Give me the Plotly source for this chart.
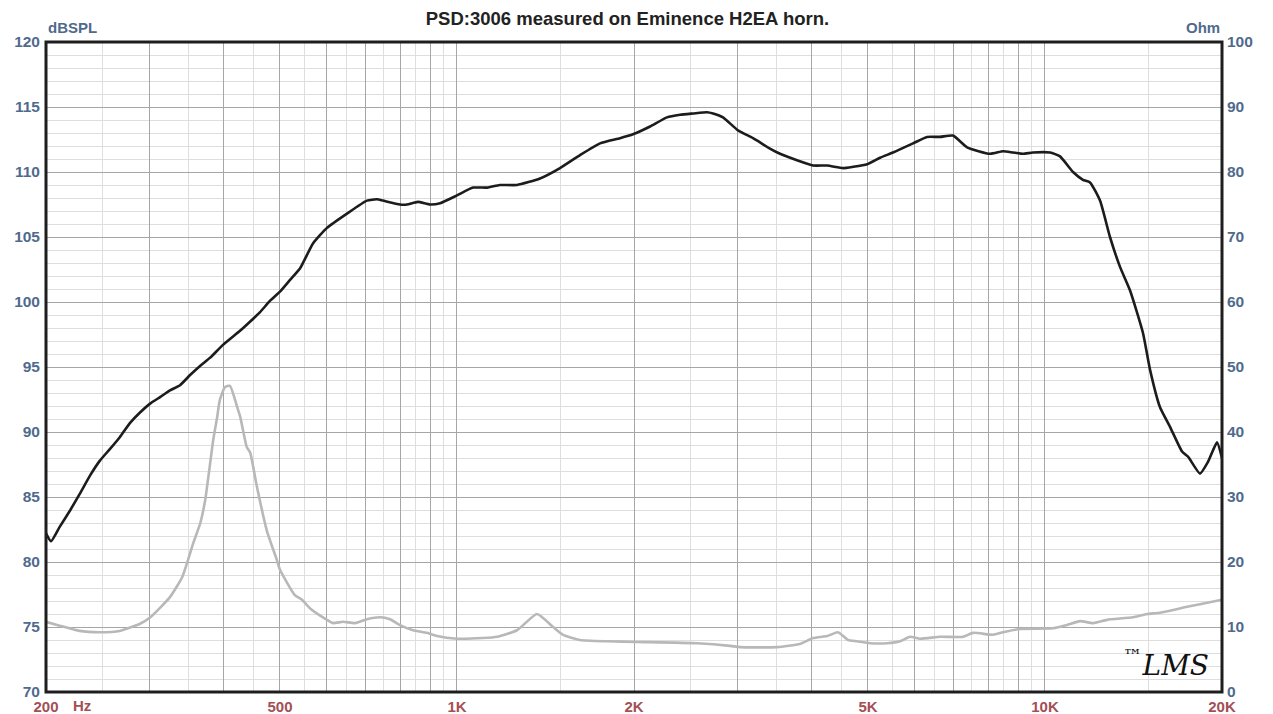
import plotly.graph_objects as go

# ---- Data ----
spl_freq = [200, 204, 211, 220, 228, 238, 247, 257, 267, 278, 289, 301, 313, 325, 338, 352, 366, 380,
            400, 428, 445, 462, 481, 500, 520, 541, 569, 601, 650, 703, 731, 748, 800, 822, 858, 900,
            936, 1000, 1065, 1125, 1183, 1265, 1384, 1497, 1619, 1751, 1893, 1992, 2130, 2276, 2396,
            2520, 2662, 2726, 2834, 3006, 3188, 3406, 3543, 3786, 4032, 4260, 4536, 4716, 4982, 5242,
            5514, 5964, 6300, 6630, 6974, 7370, 8064, 8486, 8824, 9174, 9540, 10198, 10606, 11160,
            11604, 11928, 12404, 12898, 13414, 13948, 14680, 15086, 15690, 16316, 17102, 17508,
            18348, 18934, 19612, 20000]
spl_db = [82.2, 81.6, 82.7, 84.0, 85.2, 86.7, 87.8, 88.7, 89.6, 90.7, 91.5, 92.2, 92.7, 93.2, 93.6,
          94.4, 95.1, 95.7, 96.7, 97.8, 98.5, 99.2, 100.1, 100.8, 101.7, 102.6, 104.5, 105.7, 106.8,
          107.8, 107.9, 107.8, 107.5, 107.5, 107.7, 107.5, 107.6, 108.2, 108.8, 108.8, 109.0, 109.0,
          109.5, 110.3, 111.3, 112.2, 112.6, 112.9, 113.5, 114.2, 114.4, 114.5, 114.6, 114.5, 114.2,
          113.2, 112.6, 111.8, 111.4, 110.9, 110.5, 110.5, 110.3, 110.4, 110.6, 111.1, 111.5, 112.2,
          112.7, 112.7, 112.8, 111.9, 111.4, 111.6, 111.5, 111.4, 111.5, 111.5, 111.2, 110.0, 109.4,
          109.2, 107.8, 105.0, 102.7, 100.9, 97.6, 94.8, 91.9, 90.4, 88.5, 88.1, 86.8, 87.7, 89.2,
          88.0]

imp_freq = [200, 211, 228, 247, 267, 289, 301, 325, 341, 356, 366, 373, 385, 391, 395, 403, 411, 423,
            428, 439, 445, 457, 475, 494, 500, 530, 545, 562, 601, 615, 640, 671, 703, 740, 769, 800,
            842, 889, 925, 1000, 1107, 1170, 1265, 1368, 1457, 1515, 1619, 1800, 2024, 2560, 2914,
            3030, 3502, 3830, 4032, 4260, 4446, 4624, 4790, 5040, 5388, 5668, 5894, 6130, 6630, 7256,
            7546, 8158, 8486, 9070, 10318, 10900, 11472, 12070, 12752, 14118, 14912, 15690, 17440,
            18348, 20000]
imp_ohm = [10.8, 10.2, 9.4, 9.2, 9.4, 10.5, 11.5, 14.6, 17.7, 22.9, 26.0, 29.5, 38.8, 42.3, 44.9,
           46.9, 47.1, 43.8, 42.3, 37.7, 36.8, 31.5, 24.8, 20.3, 18.8, 14.9, 14.2, 12.9, 11.1, 10.6,
           10.8, 10.6, 11.2, 11.5, 11.2, 10.3, 9.5, 9.1, 8.6, 8.2, 8.3, 8.5, 9.5, 12.0, 10.0, 8.8,
           8.0, 7.8, 7.7, 7.5, 7.1, 6.9, 6.9, 7.4, 8.3, 8.6, 9.2, 8.0, 7.8, 7.5, 7.5, 7.8, 8.5, 8.2,
           8.5, 8.5, 9.1, 8.8, 9.2, 9.7, 9.8, 10.3, 10.9, 10.6, 11.1, 11.5, 12.0, 12.2, 13.1, 13.5,
           14.2]

x_major = [200, 300, 400, 500, 600, 700, 800, 900, 1000, 2000, 3000, 4000, 5000, 6000, 7000, 8000,
           9000, 10000, 20000]
x_labels = ["200", "", "", "500", "", "", "", "", "1K", "2K", "", "", "5K", "", "", "", "", "10K", "20K"]
x_minor = [250, 350, 450, 550, 650, 750, 850, 950, 1500, 2500, 3500, 4500, 5500, 6500, 7500, 8500,
           9500, 15000]

title = "PSD:3006 measured on Eminence H2EA horn."

FONT = "Liberation Sans, Arial, sans-serif"
BLUE = "#4f6a8c"
RED = "#a34f55"

W, H = 1265, 706  # page body has an 8px margin

fig = go.Figure()
fig.add_trace(go.Scatter(x=imp_freq, y=imp_ohm, yaxis="y2", mode="lines",
                         line=dict(color="#b8b8b8", width=2.6, shape="spline", smoothing=0.5),
                         hoverinfo="skip", showlegend=False))
fig.add_trace(go.Scatter(x=spl_freq, y=spl_db, mode="lines",
                         line=dict(color="#1c1c1c", width=2.6, shape="spline", smoothing=0.5),
                         hoverinfo="skip", showlegend=False))

fig.update_layout(
    width=W, height=H,
    margin=dict(l=38, r=51, t=34, b=22, autoexpand=False),
    paper_bgcolor="white", plot_bgcolor="white",
    font=dict(family=FONT),
    title=dict(text="<b>" + title + "</b>", x=0.4897, xanchor="center", yref="container",
               y=1 - 10.5 / H, yanchor="middle", automargin=False,
               font=dict(size=18.5, color="#222222", family=FONT)),
    xaxis=dict(type="log", range=[2.30103, 4.30103], tickmode="array", tickvals=x_major,
               ticktext=x_labels, showgrid=True, gridcolor="#a6a6a6", gridwidth=1.4,
               ticks="", zeroline=False, showline=False, automargin=False, ticklabelstandoff=4,
               tickfont=dict(size=15, color=RED, family=FONT, weight="bold"),
               minor=dict(tickmode="array", tickvals=x_minor, showgrid=True,
                          gridcolor="#dedede", gridwidth=1, ticks="")),
    yaxis=dict(range=[70, 120], dtick=5, showgrid=True, gridcolor="#a6a6a6", gridwidth=1.4,
               ticks="", zeroline=False, showline=False, automargin=False, ticklabelstandoff=5,
               tickfont=dict(size=15.5, color=BLUE, family=FONT, weight="bold"),
               minor=dict(dtick=1, showgrid=True, gridcolor="#dedede", gridwidth=1)),
    yaxis2=dict(range=[0, 100], dtick=10, overlaying="y", side="right", showgrid=False,
                ticks="", zeroline=False, showline=False, automargin=False, ticklabelstandoff=4,
                tickfont=dict(size=15.5, color=BLUE, family=FONT, weight="bold")),
)

fig.add_shape(type="rect", xref="paper", yref="paper", x0=0, x1=1, y0=0, y1=1,
              line=dict(color="#1e1e1e", width=3), layer="above")

fig.add_annotation(text="<b>dBSPL</b>", xref="paper", yref="paper", x=0.0, y=1.0, xanchor="left",
                   yanchor="bottom", yshift=4, showarrow=False,
                   font=dict(size=15, color=BLUE, family=FONT))
fig.add_annotation(text="<b>Ohm</b>", xref="paper", yref="paper", x=1.0, y=1.0, xanchor="right",
                   yanchor="bottom", yshift=4, showarrow=False,
                   font=dict(size=15, color=BLUE, family=FONT))
fig.add_annotation(text="<b>Hz</b>", xref="paper", yref="paper", x=0.0, y=0.0, xanchor="left",
                   yanchor="top", xshift=25, yshift=-3, showarrow=False,
                   font=dict(size=15, color=RED, family=FONT))
fig.add_annotation(text="<sup>™</sup><i>LMS</i>", xref="paper", yref="paper", x=0.991, y=0.012,
                   xanchor="right", yanchor="bottom", showarrow=False,
                   font=dict(size=28, color="#111111", family="DejaVu Serif, serif"))

fig.write_html("out.html")
